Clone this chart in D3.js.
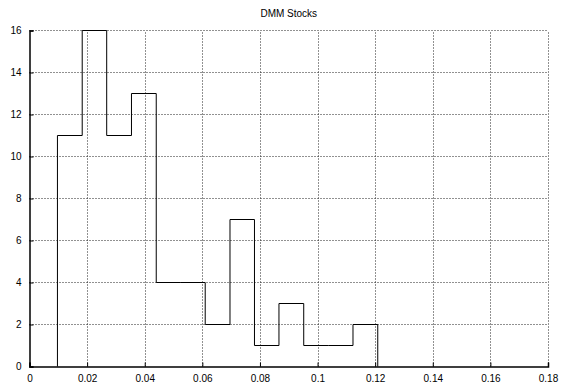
<!DOCTYPE html>
<html>
<head>
<meta charset="utf-8">
<script src="https://cdn.jsdelivr.net/npm/d3@7"></script>
<style>
  body { margin: 0; background: #fff; }
  svg { display: block; font-family: "Liberation Sans", Arial, sans-serif; }
</style>
</head>
<body>
<svg id="chart" width="561" height="385"></svg>
<script>
// bin edges and counts
const binEdges = [0.0097, 0.0183, 0.0268, 0.0354, 0.0440, 0.0525, 0.0610, 0.0696, 0.0781, 0.0866, 0.0952, 0.1037, 0.1123, 0.1209];
const counts = [11, 16, 11, 13, 4, 4, 2, 7, 1, 3, 1, 1, 2];
const xTicks = [0, 0.02, 0.04, 0.06, 0.08, 0.1, 0.12, 0.14, 0.16, 0.18];
const yTicks = [0, 2, 4, 6, 8, 10, 12, 14, 16];
const title = "DMM Stocks";

const svg = d3.select("#chart");
const margin = {left: 29.5, right: 13, top: 30, bottom: 19};
const W = 561, H = 385;

const x = d3.scaleLinear().domain([0, 0.18]).range([margin.left, W - margin.right]);
const y = d3.scaleLinear().domain([0, 16]).range([H - margin.bottom + 0.5, margin.top + 0.5]);

// grid
let grid = svg.append("g")
    .attr("stroke", "#222")
    .attr("stroke-width", 1)
    .attr("stroke-dasharray", "1,2");
grid.selectAll(".gy").data(yTicks.slice(1)).join("line")
    .attr("x1", x(0)).attr("x2", x(0.18))
    .attr("y1", d => y(d)).attr("y2", d => y(d));
grid.selectAll(".gx").data(xTicks.slice(1)).join("line")
    .attr("x1", d => Math.round(x(d)) + 0.5).attr("x2", d => Math.round(x(d)) + 0.5)
    .attr("y1", y(0)).attr("y2", y(16));

// histogram outline as stairs
let pts = [[binEdges[0], 0]];
counts.forEach((c, i) => {
    pts.push([binEdges[i], c]);
    pts.push([binEdges[i + 1], c]);
});
pts.push([binEdges[binEdges.length - 1], 0]);

svg.append("path")
    .datum(pts)
    .attr("fill", "none")
    .attr("stroke", "#000")
    .attr("stroke-width", 1)
    .attr("d", d3.line().x(d => x(d[0])).y(d => y(d[1])));

// axes
let xaxis = svg.append("g")
    .attr("transform", `translate(0,${y(0)})`)
    .call(d3.axisBottom(x).tickValues(xTicks).tickSize(-4).tickPadding(8).tickFormat(d => d3.format("")(+d.toFixed(2))));
let yaxis = svg.append("g")
    .attr("transform", `translate(${x(0)},0)`)
    .call(d3.axisLeft(y).tickValues(yTicks).tickSize(-4).tickPadding(8));

for (let a of [xaxis, yaxis]) {
    a.select(".domain").attr("stroke", "#000").attr("stroke-width", 1.5);
    a.selectAll(".tick line").attr("stroke", "#000");
    a.selectAll(".tick text").attr("font-size", 10).attr("fill", "#000");
}

svg.append("text")
    .attr("x", (x(0) + x(0.18)) / 2)
    .attr("y", 17)
    .attr("text-anchor", "middle")
    .attr("font-size", 10)
    .text(title);
</script>
</body>
</html>
